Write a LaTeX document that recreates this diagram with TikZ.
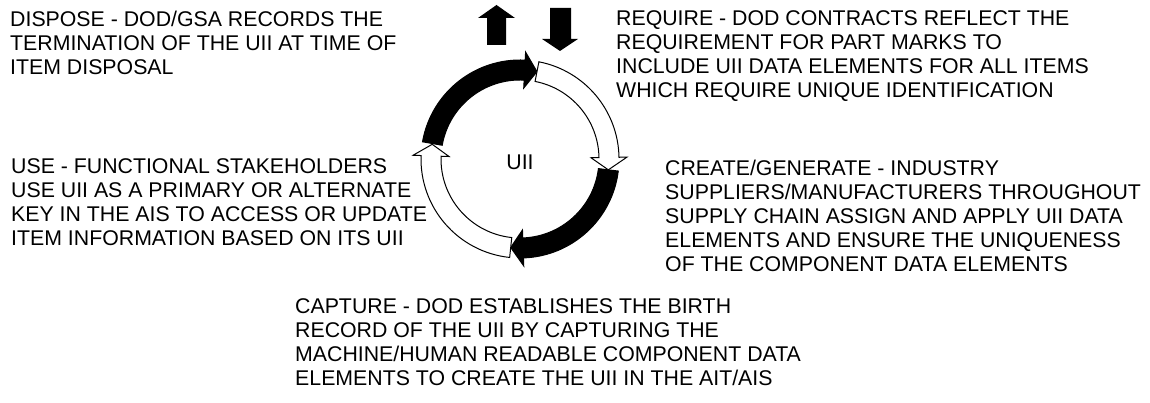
\documentclass[tikz,border=0pt]{standalone}
\usepackage{fontspec}
\setmainfont{Liberation Sans}
\begin{document}
\begin{tikzpicture}[x=1pt,y=1pt,
  lbl/.style={anchor=north west, inner sep=0pt, align=left, font=\fontsize{21.3}{24}\selectfont},
  ringpart/.style={draw=black, line width=1pt, line join=miter}]
\useasboundingbox (0,0) rectangle (1150,403);
\newcommand\ringarrow[4]{\filldraw[ringpart, fill=#1, shift={(520,244)}]
  (#2:99) arc[start angle=#2, end angle=#3, radius=99] -- (#3:107) -- (#4:89) -- (#3:71)
  -- (#3:79) arc[start angle=#3, end angle=#2, radius=79] -- cycle;}
% ring arrows
\ringarrow{black}{170}{87}{79}
\ringarrow{black}{-7}{-88}{-96}
\ringarrow{white}{79}{1}{-7}
\ringarrow{white}{264}{178}{170.5}
% up / down arrows
\fill (487,358) -- (487,385) -- (478,385) -- (496.5,398) -- (515,385) -- (506,385) -- (506,358) -- cycle;
\fill (550,395) -- (550,364) -- (542,364) -- (560,352) -- (578,364) -- (571,364) -- (571,395) -- cycle;
% texts
\node[anchor=center, inner sep=0pt, font=\fontsize{21.3}{24}\selectfont] (uii) at (520,241) {UII};
\node[lbl] (dispose) at (10,392) {DISPOSE - DOD/GSA RECORDS THE\\TERMINATION OF THE UII AT TIME OF\\ITEM DISPOSAL};
\node[lbl] (require) at (616,393) {REQUIRE - DOD CONTRACTS REFLECT THE\\REQUIREMENT FOR PART MARKS TO\\INCLUDE UII DATA ELEMENTS FOR ALL ITEMS\\WHICH REQUIRE UNIQUE IDENTIFICATION};
\node[lbl] (use) at (11,245) {USE - FUNCTIONAL STAKEHOLDERS\\USE UII AS A PRIMARY OR ALTERNATE\\KEY IN THE AIS TO ACCESS OR UPDATE\\ITEM INFORMATION BASED ON ITS UII};
\node[lbl] (create) at (665,243) {CREATE/GENERATE - INDUSTRY\\SUPPLIERS/MANUFACTURERS THROUGHOUT\\SUPPLY CHAIN ASSIGN AND APPLY UII DATA\\ELEMENTS AND ENSURE THE UNIQUENESS\\OF THE COMPONENT DATA ELEMENTS};
\node[lbl] (capture) at (295,105) {CAPTURE - DOD ESTABLISHES THE BIRTH\\RECORD OF THE UII BY CAPTURING THE\\MACHINE/HUMAN READABLE COMPONENT DATA\\ELEMENTS TO CREATE THE UII IN THE AIT/AIS};
\end{tikzpicture}
\end{document}
